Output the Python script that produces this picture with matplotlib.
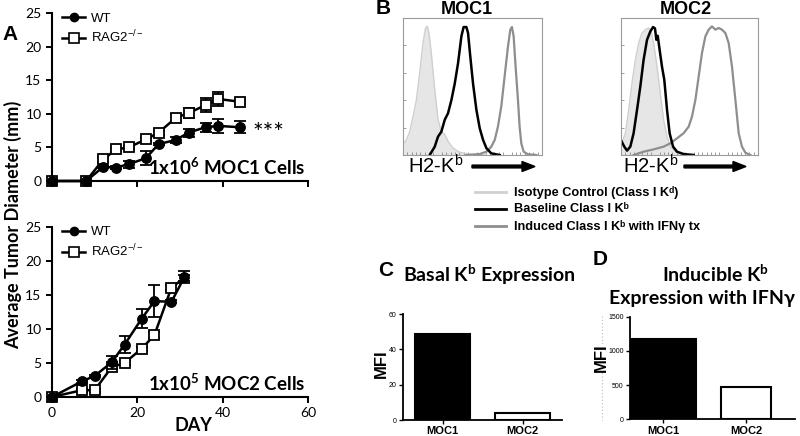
import numpy as np
import matplotlib.pyplot as plt
from matplotlib.lines import Line2D
from matplotlib.patches import FancyArrow

plt.rcParams['font.family'] = 'Liberation Sans'
plt.rcParams['mathtext.fontset'] = 'custom'
plt.rcParams['mathtext.rm'] = 'Liberation Sans'
plt.rcParams['mathtext.it'] = 'Liberation Sans:italic'
plt.rcParams['mathtext.bf'] = 'Liberation Sans:bold'

# panel A - tumor growth
moc1_days = [0, 8, 12, 15, 18, 22, 25, 29, 32, 36, 39, 44]
moc1_wt = [0, 0, 2.1, 2.0, 2.5, 3.4, 5.5, 6.1, 7.2, 8.0, 8.2, 8.0]
moc1_wt_err = [0, 0, 0.2, 0.2, 0.5, 1.0, 0.2, 0.5, 0.6, 0.7, 1.0, 0.9]
moc1_rag = [0, 0, 3.2, 4.7, 5.0, 6.2, 7.2, 9.4, 10.1, 11.3, 12.2, 11.8]
moc1_rag_err = [0, 0, 0.3, 0.2, 0.2, 0.2, 0.3, 0.5, 0.7, 1.0, 1.1, 0.3]

moc2_days = [0, 7, 10, 14, 17, 21, 24, 28, 31]
moc2_wt = [0, 2.3, 3.1, 5.1, 7.7, 11.5, 14.1, 14.0, 17.6]
moc2_wt_err = [0, 0.2, 0.2, 1.0, 1.2, 1.4, 2.3, 0.2, 0.9]
moc2_rag = [0, 1.0, 1.0, 4.4, 5.0, 7.1, 9.1, 16.1, 17.5]
moc2_rag_err = [0, 0.2, 0.2, 0.3, 0.3, 0.3, 0.4, 0.3, 0.5]

# panel B - flow histograms (channel 0-100, % of max)
moc1_iso_x = [0.5, 2.4, 4.8, 7.2, 9.6, 12, 14.4, 16.3, 17.5, 18.7, 20.4, 22.8, 25.2, 27.6, 30, 32.4, 36, 40.8, 48, 60]
moc1_iso_y = [8.5, 11, 17, 28, 40, 60, 82, 93, 94, 89, 74, 48, 26, 17, 15, 10, 5, 2, 0.5, 0]
moc1_base_x = [19.2, 22.8, 25.2, 27.6, 30, 32.4, 34.8, 37.2, 39.6, 42, 43.6, 45.6, 46.8, 48.4, 50.4, 52.8, 55.2, 57.6, 60, 63.5, 69.5]
moc1_base_y = [0, 6, 13.4, 17, 25.6, 30.5, 40, 52, 67, 86.6, 93.4, 93.4, 89, 72, 52, 33, 19.5, 11, 5, 1.2, 0]
moc1_ind_x = [45.6, 55.2, 60, 63.5, 66, 68.3, 70.7, 73.1, 75.5, 77.2, 78.4, 79.6, 81, 82.7, 83.9, 85.1, 86.8, 89.9, 95.9]
moc1_ind_y = [0, 0.7, 2.4, 6, 11, 20.7, 35.4, 57.3, 79, 91.5, 93.4, 86.6, 64.6, 40.2, 20.7, 8.5, 2.4, 0.5, 0]

moc2_iso_x = [0.5, 3.2, 5.6, 8, 10.5, 12.9, 15.3, 17.8, 20.2, 21.9, 23.8, 26.3, 28.7, 31.1, 33.6, 36, 39.7, 43.3, 50.6]
moc2_iso_y = [8.5, 15.9, 32.9, 52.4, 69.5, 81.7, 89, 91.5, 92.7, 90.2, 81.7, 64.6, 45, 25.6, 13.4, 6.1, 2.4, 0.7, 0]
moc2_base_x = [0.5, 2.4, 4.4, 6.8, 9.2, 11.7, 14.1, 16.5, 19, 21.4, 23.4, 24.8, 25.8, 26.8, 28.2, 29.9, 31.6, 33.6, 35.5, 38, 40.9, 45.7, 53]
moc2_base_y = [9.8, 6.1, 3.2, 6.1, 15.9, 32.9, 50, 69.5, 84.1, 90.2, 93.4, 92.4, 84.1, 87, 76.8, 64.6, 54.9, 32.9, 15.9, 6.1, 2.4, 0.7, 0]
moc2_ind_x = [9.2, 16.5, 23.8, 31.1, 36, 40.9, 45.7, 49.4, 51.8, 54.3, 56.7, 59.1, 61.6, 64, 66.4, 68.9, 71.3, 73.7, 76.2, 78.6, 81, 83.5, 85.9, 88.3, 90.8, 94.4]
moc2_ind_y = [0, 2.4, 4.1, 6.1, 8.5, 12.2, 15.9, 20.7, 28, 40.2, 57.3, 74.4, 86.6, 91.5, 93.9, 91.5, 92.7, 91.5, 89, 81.7, 64.6, 40.2, 15.9, 6.1, 1.7, 0]

# panels C, D - MFI
cell_lines = ['MOC1', 'MOC2']
basal_mfi = [48.5, 3.8]
induced_mfi = [1170, 475]

W, H = 800, 436


def box(x0, y0, x1, y1):
    # pixel box (top-left origin) -> figure fraction
    return [x0 / W, 1 - y1 / H, (x1 - x0) / W, (y1 - y0) / H]


def ftxt(x, y, s, **kw):
    return fig.text(x / W, 1 - y / H, s, **kw)


fig = plt.figure(figsize=(8, 4.36), dpi=100)
fig.patch.set_facecolor('white')


def growth(ax, days, wt, wt_err, rag, rag_err, show_xlabels, rag_marks=None):
    rag_eb = ax.errorbar(days, rag, yerr=rag_err, color='black', lw=1.8, marker='s', ms=7,
                         mfc='white', mec='black', mew=1.3, capsize=4, elinewidth=1.3,
                         capthick=1.3, zorder=3, markevery=rag_marks)
    wt_eb = ax.errorbar(days, wt, yerr=wt_err, color='black', lw=1.8, marker='o', ms=6.8,
                        mfc='black', mec='black', capsize=4, elinewidth=1.3, capthick=1.3,
                        zorder=4)
    for eb in (rag_eb, wt_eb):
        for art in eb.get_children():
            art.set_clip_on(False)
    ax.set_xlim(0, 60)
    ax.set_ylim(0, 25)
    ax.spines[['top', 'right']].set_visible(False)
    for s in ('left', 'bottom'):
        ax.spines[s].set_linewidth(1.5)
    ax.tick_params(direction='out', length=4, width=1.4)
    ax.set_yticks([0, 5, 10, 15, 20, 25], labels=['0', '5', '10', '15', '20', '25'],
                  fontfamily='Lato', fontsize=10)
    if show_xlabels:
        ax.set_xticks([0, 20, 40, 60], labels=['0', '20', '40', '60'], fontfamily='Lato', fontsize=10)
    else:
        ax.set_xticks([0, 20, 40, 60], labels=[])
    hs = [Line2D([], [], color='black', lw=1.8, marker='o', ms=6, mfc='black'),
          Line2D([], [], color='black', lw=1.8, marker='s', ms=6.5, mfc='white', mew=1.2)]
    ax.legend(hs, ['WT', r'RAG2$^{\mathdefault{-/-}}$'], loc='upper left', frameon=False,
              fontsize=9.5, handlelength=1.7, handletextpad=0.5, labelspacing=0.35,
              borderpad=0, borderaxespad=0.2, bbox_to_anchor=(0.03, 1.02))


axA1 = fig.add_axes(box(52, 13, 308, 181))
growth(axA1, moc1_days, moc1_wt, moc1_wt_err, moc1_rag, moc1_rag_err, False)
axA2 = fig.add_axes(box(52, 227, 308, 397))
growth(axA2, moc2_days, moc2_wt, moc2_wt_err, moc2_rag, moc2_rag_err, True,
       rag_marks=list(range(len(moc2_days) - 1)))

ftxt(305, 175, r'1x10$^{\mathdefault{6}}$ MOC1 Cells', ha='right', va='baseline',
     fontfamily='Lato', fontweight='bold', fontsize=13.5)
ftxt(305, 391, r'1x10$^{\mathdefault{5}}$ MOC2 Cells', ha='right', va='baseline',
     fontfamily='Lato', fontweight='bold', fontsize=13.5)
ftxt(268, 133, '***', ha='center', va='center', fontfamily='Lato', fontsize=18)
ftxt(13, 225, 'Average Tumor Diameter (mm)', rotation=90, ha='center', va='center',
     fontfamily='Lato', fontweight='bold', fontsize=13)
ftxt(193, 425, 'DAY', ha='center', va='center', fontfamily='Lato', fontweight='bold', fontsize=13)
ftxt(10, 35, 'A', ha='center', va='center', fontweight='bold', fontsize=15)

# panel B
xb = np.concatenate([np.linspace(0, 25, 9)[1:-1], np.linspace(25, 50, 9)[1:-1],
                     np.linspace(50, 75, 9)[1:-1], np.linspace(75, 100, 9)[1:-1]])


def flow(ax, iso_x, iso_y, base_x, base_y, ind_x, ind_y):
    ax.fill_between(iso_x, iso_y, color='#e6e6e6', lw=0)
    ax.plot(iso_x, iso_y, color='#cfcfcf', lw=1.0)
    ax.plot(ind_x, ind_y, color='#8e8e8e', lw=1.6)
    ax.plot(base_x, base_y, color='black', lw=1.8)
    ax.set_xlim(0, 100)
    ax.set_ylim(0, 100)
    for s in ax.spines.values():
        s.set_color('#9a9a9a')
        s.set_linewidth(0.8)
    ax.set_yticks([0, 20, 40, 60, 80, 100], labels=[])
    ax.set_xticks(xb, labels=[])
    ax.tick_params(direction='in', length=2, width=0.5, colors='#777777')


axB1 = fig.add_axes(box(403, 18, 542, 155))
flow(axB1, moc1_iso_x, moc1_iso_y, moc1_base_x, moc1_base_y, moc1_ind_x, moc1_ind_y)
axB2 = fig.add_axes(box(621, 18, 758, 155))
flow(axB2, moc2_iso_x, moc2_iso_y, moc2_base_x, moc2_base_y, moc2_ind_x, moc2_ind_y)

ftxt(383, 9, 'B', ha='center', va='center', fontweight='bold', fontsize=15)
ftxt(467, 9, 'MOC1', ha='center', va='center', fontweight='bold', fontsize=13)
ftxt(686, 9, 'MOC2', ha='center', va='center', fontweight='bold', fontsize=13)
for tx, ax0, ax1 in ((408, 472, 534), (623, 684, 745)):
    ftxt(tx, 173, r'H2-K$^{\mathdefault{b}}$', ha='left', va='baseline', fontsize=14.5)
    fig.add_artist(FancyArrow(ax0 / W, 1 - 166.5 / H, (ax1 - ax0 - 12) / W, 0, width=2.8 / H,
                              head_width=10 / H, head_length=13 / W, color='black',
                              length_includes_head=False, transform=fig.transFigure))

leg_items = [('#d0d0d0', 'Isotype Control (Class I Kᵈ)'),
             ('black', 'Baseline Class I Kᵇ'),
             ('#8e8e8e', 'Induced Class I Kᵇ with IFNγ tx')]
for i, (c, lab) in enumerate(leg_items):
    yy = 192 + 17 * i
    fig.add_artist(Line2D([475 / W, 506 / W], [1 - yy / H, 1 - yy / H], color=c, lw=2,
                          transform=fig.transFigure))
    ftxt(514, yy + 3.5, lab, ha='left', va='baseline', fontweight='bold', fontsize=9.2,
         family=['Liberation Sans', 'DejaVu Sans'])


# panels C and D
def bars(ax, vals, widths, yticks, xlim):
    ax.bar([0, 1], vals, width=widths, color=['black', 'white'], edgecolor='black', lw=1.5)
    ax.set_xlim(*xlim)
    ax.set_ylim(0, yticks[-1])
    ax.spines[['top', 'right']].set_visible(False)
    for s in ('left', 'bottom'):
        ax.spines[s].set_linewidth(1.3)
    ax.set_yticks(yticks, labels=[str(t) for t in yticks], fontsize=5)
    ax.set_xticks([0, 1], labels=cell_lines, fontsize=8, fontweight='bold')
    ax.tick_params(direction='out', length=3, width=1, pad=1.5)


axC = fig.add_axes(box(402.7, 314, 561.7, 420))
bars(axC, basal_mfi, 0.68, [0, 20, 40, 60], (-0.5, 1.49))
axD = fig.add_axes(box(630, 316.7, 795, 419.3))
bars(axD, induced_mfi, [0.78, 0.61], [0, 500, 1000, 1500], (-0.4, 1.59))

fig.add_artist(Line2D([602 / W, 602 / W], [1 - 316 / H, 1 - 420 / H], color='#bbbbbb', lw=0.8,
                      ls=(0, (1, 2)), transform=fig.transFigure))
ftxt(381, 364, 'MFI', rotation=90, ha='center', va='center', fontweight='bold', fontsize=12)
ftxt(601, 358, 'MFI', rotation=90, ha='center', va='center', fontweight='bold', fontsize=12,
     bbox=dict(facecolor='white', edgecolor='none', pad=0))
ftxt(386, 270, 'C', ha='center', va='center', fontweight='bold', fontsize=15)
ftxt(600, 259, 'D', ha='center', va='center', fontweight='bold', fontsize=15)
ftxt(489, 275, r'Basal K$^{\mathdefault{b}}$ Expression', ha='center', va='center',
     fontfamily='Lato', fontweight='bold', fontsize=14)
ftxt(716, 274, r'Inducible K$^{\mathdefault{b}}$', ha='center', va='center',
     fontfamily='Lato', fontweight='bold', fontsize=14)
ftxt(702, 298, 'Expression with IFNγ', ha='center', va='center',
     fontfamily='Lato', fontweight='bold', fontsize=14)

fig.savefig('out.png', dpi=100)
